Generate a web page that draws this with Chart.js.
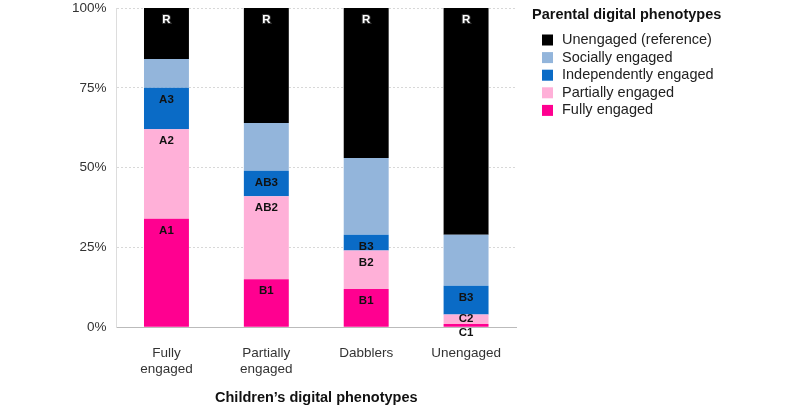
<!DOCTYPE html>
<html>
<head>
<meta charset="utf-8">
<script src="https://cdn.jsdelivr.net/npm/chart.js@4"></script>
<style>
html,body{margin:0;padding:0;background:#fff;}
#wrap{width:800px;height:410px;position:relative;}
</style>
</head>
<body>
<div id="wrap"><canvas id="c" width="800" height="410"></canvas></div>
<script>
const categories = [["Fully", "engaged"], ["Partially", "engaged"], "Dabblers", "Unengaged"];
const seriesNames = ["Fully engaged", "Partially engaged", "Independently engaged", "Socially engaged", "Unengaged (reference)"];
const fullyEngaged = [34, 15, 12, 1];
const partiallyEngaged = [28, 26, 12, 3];
const independentlyEngaged = [13, 8, 5, 9];
const sociallyEngaged = [9, 15, 24, 16];
const unengaged = [16, 36, 47, 71];
const fullyLabels = ["A1", "B1", "B1", "C1"];
const partiallyLabels = ["A2", "AB2", "B2", "C2"];
const independentlyLabels = ["A3", "AB3", "B3", "B3"];
const sociallyLabels = ["", "", "", ""];
const unengagedLabels = ["R", "R", "R", "R"];
const yTicks = [0, 25, 50, 75, 100];
const legendTitle = "Parental digital phenotypes";
const xTitle = "Children\u2019s digital phenotypes";

const colors = ["#ff0090", "#ffb0d8", "#0a6bc6", "#93b5db", "#000000"];
const seriesValues = [fullyEngaged, partiallyEngaged, independentlyEngaged, sociallyEngaged, unengaged];
const seriesLabels = [fullyLabels, partiallyLabels, independentlyLabels, sociallyLabels, unengagedLabels];
const FONT = "'Liberation Sans', Arial, Helvetica, sans-serif";

const datasets = seriesNames.map((n, i) => ({
  label: n,
  data: seriesValues[i],
  backgroundColor: colors[i],
  borderWidth: 0,
  categoryPercentage: 1,
  barPercentage: 0.45
}));

const segLabelPlugin = {
  id: 'segLabels',
  afterDatasetsDraw(chart) {
    const ctx = chart.ctx;
    ctx.save();
    ctx.font = "bold 11.5px " + FONT;
    ctx.textAlign = 'center';
    ctx.textBaseline = 'middle';
    chart.data.datasets.forEach((ds, i) => {
      const meta = chart.getDatasetMeta(i);
      meta.data.forEach((el, j) => {
        const txt = seriesLabels[i][j];
        if (!txt) return;
        const top = Math.min(el.y, el.base), bot = Math.max(el.y, el.base);
        const h = bot - top;
        let y;
        if (h < 5) y = bot + 6;
        else if (h < 14) y = (top + bot) / 2;
        else y = top + 12;
        if (i === 4) {
          ctx.lineWidth = 2;
          ctx.strokeStyle = '#333';
          ctx.strokeText(txt, el.x, y);
          ctx.fillStyle = '#fff';
        } else {
          ctx.fillStyle = '#111';
        }
        ctx.fillText(txt, el.x, y);
      });
    });
    ctx.restore();
  }
};

const legendPlugin = {
  id: 'customLegend',
  afterDraw(chart) {
    const ctx = chart.ctx;
    ctx.save();
    ctx.textBaseline = 'middle';
    ctx.textAlign = 'left';
    ctx.fillStyle = '#111';
    ctx.font = "bold 14.5px " + FONT;
    ctx.fillText(legendTitle, 532, 15);
    ctx.font = "14.5px " + FONT;
    for (let k = 0; k < 5; k++) {
      const i = 4 - k;
      const cy = 39.5 + k * 17.6;
      ctx.fillStyle = colors[i];
      ctx.fillRect(542, cy - 5, 11, 11);
      ctx.fillStyle = '#222';
      ctx.fillText(seriesNames[i], 562, cy + 0.5);
    }
    ctx.restore();
  }
};

new Chart(document.getElementById('c'), {
  type: 'bar',
  data: { labels: categories, datasets },
  plugins: [segLabelPlugin, legendPlugin],
  options: {
    responsive: false,
    animation: false,
    layout: { padding: { top: 8, right: 284, left: 62, bottom: 3 } },
    plugins: { legend: { display: false }, tooltip: { enabled: false } },
    scales: {
      x: {
        stacked: true,
        grid: { display: false, drawTicks: false },
        border: { display: true, color: '#bbb', width: 1 },
        ticks: { color: '#333', font: { family: FONT, size: 13.5 }, padding: 18, maxRotation: 0 },
        title: { display: true, text: xTitle, color: '#111', font: { family: FONT, size: 14.5, weight: 'bold' }, padding: { top: -6, bottom: 0 } }
      },
      y: {
        stacked: true,
        min: 0, max: 100,
        afterBuildTicks(scale) { scale.ticks = yTicks.map(v => ({ value: v })); },
        afterFit(scale) { scale.paddingTop = 0; scale.paddingBottom = 0; },
        grid: { color: '#d8d8d8', drawTicks: false },
        border: { display: true, color: '#ddd', dash: [2, 2] },
        ticks: { color: '#333', font: { family: FONT, size: 13.5 }, padding: 10, callback: v => v + '%' }
      }
    }
  }
});
</script>
</body>
</html>
